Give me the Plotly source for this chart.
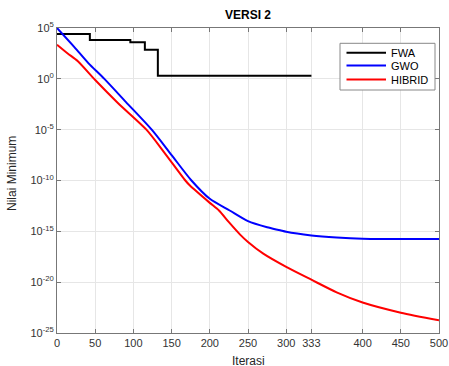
import plotly.graph_objects as go

# ---- data (log10 of the value) ----
fwa_iter = [0, 43, 96, 115, 132, 333]
fwa_log10 = [4.42, 3.82, 3.59, 2.87, 0.30, 0.30]

gwo_iter = [0, 23, 41, 62, 90, 124, 150, 176, 200, 226, 250, 275, 292, 300, 333, 366, 400, 450, 500]
gwo_log10 = [5.0, 3.1, 1.55, 0.0, -2.26, -5.0, -7.5, -10.0, -11.8, -12.95, -14.0, -14.6, -14.9,
             -15.05, -15.4, -15.6, -15.72, -15.75, -15.75]

hib_iter = [0, 14, 27, 50, 80, 117, 140, 168, 174, 200, 212, 225, 240, 250, 270, 300, 333, 366, 400, 450, 500]
hib_log10 = [3.36, 2.5, 1.75, -0.12, -2.4, -5.0, -7.2, -10.0, -10.5, -12.2, -12.95, -14.1, -15.35, -16.05,
             -17.2, -18.5, -19.76, -21.0, -22.0, -23.0, -23.75]

x_ticks = [0, 50, 100, 150, 200, 250, 300, 333, 400, 450, 500]
y_exps = [5, 0, -5, -10, -15, -20, -25]
y_ticks = [10.0 ** e for e in y_exps]
y_ticktext = [f"10<sup>{e}</sup>" for e in y_exps]

series = [
    ("FWA", fwa_iter, fwa_log10, "#000000", "hv"),
    ("GWO", gwo_iter, gwo_log10, "#0000ff", "spline"),
    ("HIBRID", hib_iter, hib_log10, "#ff0000", "spline"),
]

# plot area in pixels
L, R, T, B, W, H = 57, 10, 28, 33, 449, 366
PW, PH = W - L - R, H - T - B


def px(x):
    return (x - L) / PW


def py(y):
    return (H - B - y) / PH


fig = go.Figure()
for name, xs, ls, col, shape in series:
    fig.add_trace(go.Scatter(
        x=xs, y=[10.0 ** v for v in ls], name=name, mode="lines",
        line=dict(color=col, width=2, shape=shape, smoothing=0.7) if shape == "spline"
        else dict(color=col, width=2, shape=shape),
        showlegend=False,
    ))

font = "Arial, Liberation Sans, Helvetica, sans-serif"
axcol = "#777777"

# manual legend (box, sample lines, labels)
shapes = [dict(type="rect", xref="paper", yref="paper", x0=px(340), x1=px(435), y0=py(90), y1=py(43.3),
               line=dict(color="#888888", width=1), fillcolor="white", layer="above")]
annotations = []
for (name, _, _, col, _), ly in zip(series, [52.7, 65.5, 79.5]):
    shapes.append(dict(type="line", xref="paper", yref="paper", x0=px(346.5), x1=px(386),
                       y0=py(ly), y1=py(ly), line=dict(color=col, width=2), layer="above"))
    annotations.append(dict(text=name, xref="paper", yref="paper", x=px(388.5), y=py(ly),
                            xanchor="left", yanchor="middle", showarrow=False,
                            font=dict(size=11, color="#000000")))

annotations.append(dict(text="Nilai Minimum", xref="paper", yref="paper", x=px(12), y=py(174),
                        xanchor="center", yanchor="middle", textangle=-90, showarrow=False,
                        font=dict(size=12, color="#262626")))
annotations.append(dict(text="Iterasi", xref="paper", yref="paper", x=px(248), y=py(361),
                        xanchor="center", yanchor="middle", showarrow=False,
                        font=dict(size=12, color="#262626")))

fig.update_layout(
    width=W, height=H,
    margin=dict(l=L, r=R, t=T, b=B),
    paper_bgcolor="white", plot_bgcolor="white",
    font=dict(family=font, size=11, color="#333333"),
    title=dict(text="<b>VERSI 2</b>", x=248 / W, xanchor="center",
               y=1 - 15 / H, yanchor="middle", font=dict(size=12, color="#000000")),
    showlegend=False,
    shapes=shapes,
    annotations=annotations,
    xaxis=dict(range=[0, 500], tickvals=x_ticks, ticktext=[str(v) for v in x_ticks],
               showgrid=True, gridcolor="#e6e6e6", gridwidth=1, zeroline=False,
               showline=True, linecolor=axcol, linewidth=1, mirror="allticks",
               ticks="inside", ticklen=4, tickcolor=axcol, automargin=False),
    yaxis=dict(type="log", range=[-25, 5], tickvals=y_ticks, ticktext=y_ticktext,
               showgrid=True, gridcolor="#e6e6e6", gridwidth=1, zeroline=False,
               showline=True, linecolor=axcol, linewidth=1, mirror="allticks",
               ticks="inside", ticklen=4, tickcolor=axcol, automargin=False),
)

fig.write_html("out.html", config={"displayModeBar": False},
               post_script="document.body.style.margin='0';document.body.style.overflow='hidden';")
